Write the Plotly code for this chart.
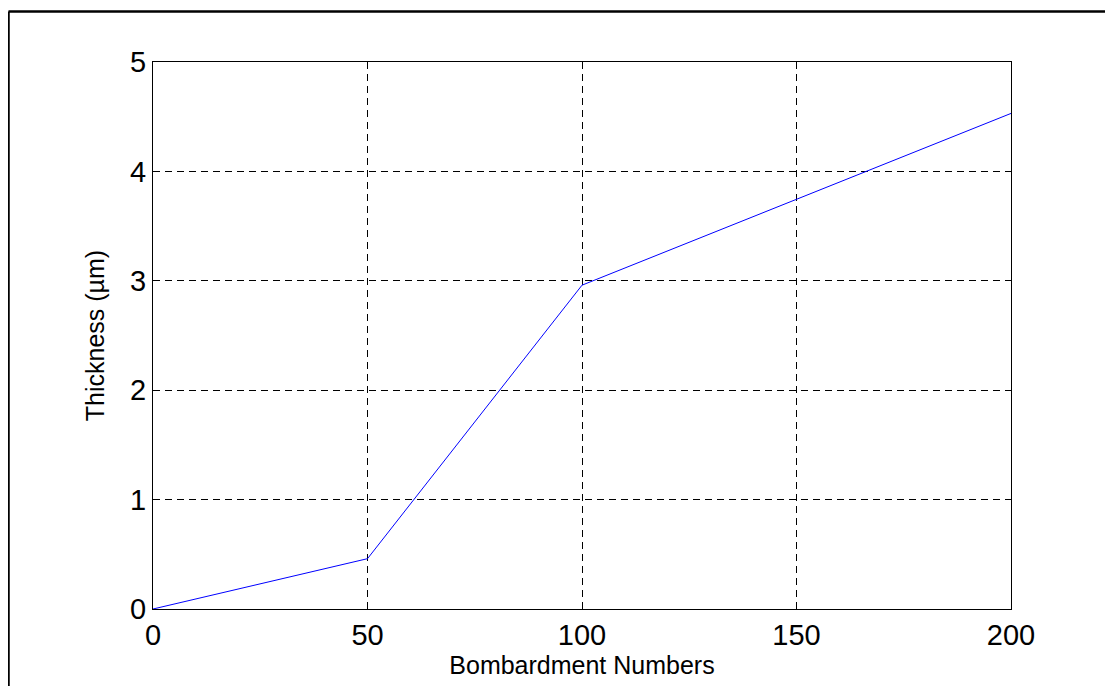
import plotly.graph_objects as go

bombardments = [0, 50, 100, 200]
thickness = [0.0, 0.46, 2.96, 4.53]

x_ticks = [0, 50, 100, 150, 200]
y_ticks = [0, 1, 2, 3, 4, 5]

FONT = "Liberation Sans, Arial, Helvetica, sans-serif"

fig = go.Figure()
fig.add_trace(go.Scatter(x=bombardments, y=thickness, mode="lines",
                         line=dict(color="#0000ff", width=1), showlegend=False))

axis_common = dict(showline=True, linecolor="black", linewidth=1, mirror="ticks",
                   ticks="inside", ticklen=6, tickcolor="black",
                   showgrid=True, gridcolor="black", griddash="7px,5px", gridwidth=1,
                   zeroline=False, tickfont=dict(family=FONT, size=29, color="black"))

fig.update_xaxes(range=[0, 200], tickvals=x_ticks, **axis_common,
                 title=dict(text="Bombardment Numbers", font=dict(family=FONT, size=25, color="black"),
                            standoff=6))
fig.update_yaxes(range=[0, 5], tickvals=y_ticks, **axis_common,
                 title=dict(text="Thickness (µm)", font=dict(family=FONT, size=25, color="black"),
                            standoff=18))

# page has an 8px body margin; figure placed at (8, 8)
W, H = 1105, 678
l, r, t, b = 145, 102, 54, 77
pw, ph = W - l - r, H - t - b

def px(xp):
    return (xp - l) / pw

def py(yp):
    return 1 - (yp - t) / ph

fig.add_shape(type="line", xref="paper", yref="paper",
              x0=px(0.5), x1=px(1130), y0=py(3.5), y1=py(3.5),
              line=dict(color="black", width=2.5))
fig.add_shape(type="line", xref="paper", yref="paper",
              x0=px(0.5), x1=px(0.5), y0=py(3.5), y1=py(700),
              line=dict(color="black", width=2.5))

fig.update_layout(width=W, height=H, margin=dict(l=l, r=r, t=t, b=b),
                  plot_bgcolor="white", paper_bgcolor="white",
                  font=dict(family=FONT, color="black"))

fig.write_html("out.html")
